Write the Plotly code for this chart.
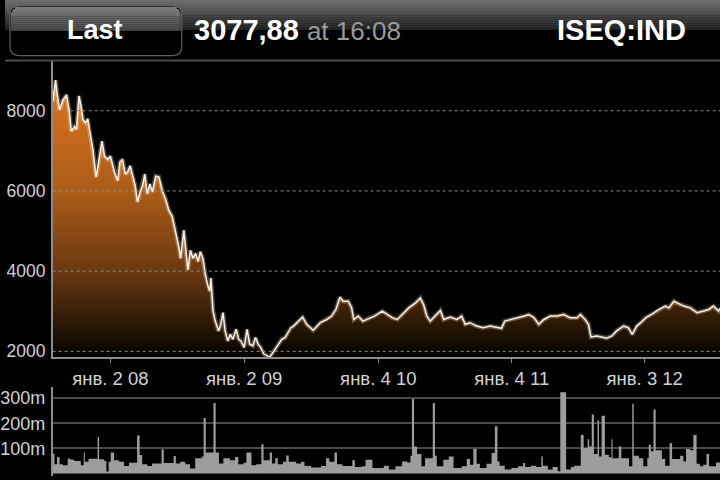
import plotly.graph_objects as go

# ---------------- data ----------------
PRICE_DATES = [
    "2007-07-28", "2007-08-05", "2007-08-09", "2007-08-16", "2007-08-25", "2007-09-04",
    "2007-09-11", "2007-09-17", "2007-09-26", "2007-10-01", "2007-10-08", "2007-10-14",
    "2007-10-19", "2007-10-26", "2007-11-01", "2007-11-08", "2007-11-15", "2007-11-24",
    "2007-12-03", "2007-12-10", "2007-12-17", "2007-12-26", "2008-01-02", "2008-01-13",
    "2008-01-22", "2008-01-28", "2008-02-04", "2008-02-12", "2008-02-18", "2008-02-25",
    "2008-03-03", "2008-03-10", "2008-03-16", "2008-03-23", "2008-03-30", "2008-04-05",
    "2008-04-12", "2008-04-19", "2008-04-26", "2008-05-05", "2008-05-14", "2008-05-23",
    "2008-06-01", "2008-06-10", "2008-06-19", "2008-06-29", "2008-07-08", "2008-07-12",
    "2008-07-21", "2008-07-26", "2008-08-01", "2008-08-08", "2008-08-15", "2008-08-22",
    "2008-08-29", "2008-09-04", "2008-09-11", "2008-09-18", "2008-09-24", "2008-09-30",
    "2008-10-03", "2008-10-09", "2008-10-15", "2008-10-24", "2008-10-30", "2008-11-05",
    "2008-11-11", "2008-11-18", "2008-11-25", "2008-12-02", "2008-12-11", "2008-12-18",
    "2008-12-24", "2009-01-02", "2009-01-10", "2009-01-17", "2009-01-26", "2009-02-02",
    "2009-02-09", "2009-02-16", "2009-02-25", "2009-03-05", "2009-03-12", "2009-03-19",
    "2009-03-28", "2009-04-06", "2009-04-15", "2009-04-24", "2009-05-03", "2009-05-10",
    "2009-05-17", "2009-05-31", "2009-06-11", "2009-06-22", "2009-07-10", "2009-07-29",
    "2009-08-16", "2009-08-29", "2009-09-10", "2009-09-21", "2009-09-30", "2009-10-14",
    "2009-10-23", "2009-10-29", "2009-11-10", "2009-11-23", "2009-12-12", "2009-12-24",
    "2010-01-15", "2010-01-28", "2010-02-11", "2010-02-25", "2010-03-10", "2010-03-28",
    "2010-04-16", "2010-04-29", "2010-05-08", "2010-05-17", "2010-05-26", "2010-06-09",
    "2010-06-23", "2010-07-02", "2010-07-20", "2010-08-07", "2010-08-20", "2010-08-30",
    "2010-09-12", "2010-09-30", "2010-10-18", "2010-11-06", "2010-11-24", "2010-12-07",
    "2010-12-16", "2011-01-03", "2011-01-19", "2011-02-07", "2011-02-20", "2011-03-06",
    "2011-03-19", "2011-04-02", "2011-04-20", "2011-05-08", "2011-05-26", "2011-06-13",
    "2011-07-02", "2011-07-11", "2011-07-24", "2011-08-02", "2011-08-09", "2011-08-25",
    "2011-09-07", "2011-09-21", "2011-10-05", "2011-10-18", "2011-11-06", "2011-11-19",
    "2011-11-30", "2011-12-12", "2011-12-23", "2012-01-06", "2012-01-24", "2012-02-11",
    "2012-02-29", "2012-03-09", "2012-03-23", "2012-04-05", "2012-04-19", "2012-05-07",
    "2012-05-25", "2012-06-12", "2012-06-26", "2012-07-09", "2012-07-23", "2012-07-27",
]
PRICE = [
    8230, 8765, 8445, 8025, 8270, 8395,
    8025, 7490, 7610, 7530, 8370, 8105,
    7780, 7700, 7800, 7365, 7035, 6345,
    6870, 7240, 6870, 6790, 6870, 6470,
    6255, 6715, 6790, 6420, 6470, 6625,
    6380, 6130, 5725, 5975, 6130, 6420,
    5925, 6175, 5975, 6370, 6345, 6005,
    5800, 5515, 5375, 4980, 4570, 4320,
    5020, 4570, 4030, 4520, 4320, 4445,
    4240, 4485, 4320, 3910, 3660, 3500,
    3830, 3005, 2755, 2510, 2675, 2965,
    2510, 2260, 2425, 2300, 2550, 2300,
    2260, 2100, 2550, 2180, 2140, 2345,
    2180, 2100, 1935, 1895, 1850, 1935,
    2055, 2180, 2300, 2345, 2470, 2590,
    2630, 2755, 2855, 2675, 2525, 2715,
    2795, 2880, 3045, 3350, 3250, 3250,
    3085, 2795, 2880, 2755, 2840, 2880,
    3005, 2920, 2840, 2795, 2920, 3085,
    3210, 3330, 3170, 2880, 2755, 2880,
    3020, 2795, 2855, 2795, 2880, 2675,
    2715, 2630, 2590, 2630, 2590, 2575,
    2755, 2795, 2820, 2880, 2920, 2840,
    2675, 2795, 2880, 2880, 2920, 2840,
    2840, 2920, 2795, 2675, 2360, 2385,
    2360, 2330, 2385, 2510, 2630, 2590,
    2425, 2630, 2715, 2840, 2935, 3045,
    3130, 3085, 3250, 3185, 3130, 3085,
    2965, 3005, 3045, 3130, 3005, 3077.88,
]

VOL_DATES = [
    "2007-07-28", "2007-08-02", "2007-08-09", "2007-08-16", "2007-08-25", "2007-09-07",
    "2007-09-16", "2007-09-25", "2007-10-13", "2007-10-21", "2007-10-24", "2007-11-03",
    "2007-11-28", "2007-12-02", "2007-12-16", "2007-12-22", "2007-12-28", "2008-01-03",
    "2008-01-12", "2008-01-26", "2008-02-08", "2008-02-22", "2008-03-15", "2008-03-22",
    "2008-03-29", "2008-04-12", "2008-04-25", "2008-05-21", "2008-05-27", "2008-06-23",
    "2008-06-29", "2008-07-11", "2008-07-25", "2008-08-07", "2008-08-21", "2008-09-08",
    "2008-09-13", "2008-09-19", "2008-10-10", "2008-10-16", "2008-10-25", "2008-11-06",
    "2008-11-24", "2008-12-08", "2008-12-17", "2008-12-31", "2009-01-08", "2009-01-22",
    "2009-02-04", "2009-02-18", "2009-02-24", "2009-03-13", "2009-03-19", "2009-03-28",
    "2009-04-04", "2009-04-18", "2009-04-27", "2009-05-04", "2009-05-24", "2009-06-07",
    "2009-06-16", "2009-07-04", "2009-07-31", "2009-08-14", "2009-08-23", "2009-09-06",
    "2009-09-13", "2009-09-28", "2009-10-25", "2009-11-01", "2009-11-21", "2009-11-30",
    "2009-12-19", "2010-01-19", "2010-02-02", "2010-02-20", "2010-03-10", "2010-03-24",
    "2010-04-02", "2010-04-06", "2010-04-12", "2010-04-20", "2010-05-02", "2010-05-12",
    "2010-06-02", "2010-06-08", "2010-06-13", "2010-07-01", "2010-07-16", "2010-07-29",
    "2010-08-20", "2010-09-03", "2010-09-12", "2010-09-21", "2010-09-30", "2010-10-09",
    "2010-10-27", "2010-11-10", "2010-11-19", "2010-11-26", "2010-12-02", "2010-12-16",
    "2011-01-03", "2011-01-21", "2011-02-04", "2011-02-10", "2011-02-26", "2011-03-12",
    "2011-03-26", "2011-03-30", "2011-04-13", "2011-04-26", "2011-05-10", "2011-05-17",
    "2011-06-02", "2011-06-15", "2011-06-24", "2011-07-12", "2011-07-20", "2011-07-31",
    "2011-08-04", "2011-08-11", "2011-08-17", "2011-08-27", "2011-08-31", "2011-09-07",
    "2011-09-16", "2011-09-27", "2011-10-04", "2011-10-07", "2011-10-24", "2011-10-31",
    "2011-11-21", "2011-11-30", "2011-12-04", "2011-12-18", "2011-12-30", "2012-01-10",
    "2012-01-14", "2012-01-20", "2012-01-27", "2012-02-02", "2012-02-19", "2012-02-28",
    "2012-03-11", "2012-03-18", "2012-04-09", "2012-04-18", "2012-04-25", "2012-05-06",
    "2012-05-15", "2012-05-24", "2012-06-02", "2012-06-11", "2012-06-20", "2012-06-27",
    "2012-07-16", "2012-07-27",
]
VOL_M = [
    79, 37, 66, 37, 33, 59,
    55, 50, 33, 83, 47, 59,
    145, 57, 50, 8, 47, 83,
    53, 47, 30, 43, 151, 74,
    37, 30, 40, 96, 42, 70,
    40, 47, 37, 20, 61, 68,
    221, 83, 280, 83, 40, 61,
    53, 66, 37, 43, 83, 33,
    37, 116, 53, 83, 40, 61,
    37, 47, 72, 47, 40, 47,
    30, 24, 30, 61, 47, 83,
    37, 30, 53, 26, 29, 55,
    22, 31, 16, 29, 48, 44,
    71, 297, 107, 78, 29, 61,
    280, 71, 29, 55, 68, 22,
    29, 58, 35, 97, 39, 22,
    39, 81, 188, 48, 31, 16,
    22, 29, 42, 26, 31, 26,
    68, 31, 16, 26, 9, 323,
    16, 26, 31, 153, 101, 136,
    107, 235, 78, 212, 68, 230,
    75, 65, 136, 61, 107, 61,
    29, 277, 71, 61, 29, 61,
    114, 88, 255, 92, 58, 31,
    120, 58, 71, 48, 97, 92,
    153, 39, 29, 35, 78, 29,
    44, 44,
]

X_RANGE = ["2007-07-28", "2012-07-27"]
X_TICKS = ["2008-01-02", "2009-01-02", "2010-01-04", "2011-01-04", "2012-01-03"]
X_TICK_TEXT = ["янв. 2 08", "янв. 2 09", "янв. 4 10", "янв. 4 11", "янв. 3 12"]
Y_RANGE = [1847, 9229]
Y_TICKS = [2000, 4000, 6000, 8000]
Y_TICK_TEXT = ["2000", "4000", "6000", "8000"]
VOL_RANGE = [-10, 345]
VOL_TICKS = [100, 200, 300]
VOL_TICK_TEXT = ["100m", "200m", "300m"]

LAST_VALUE = "3077,88"
LAST_TIME = "at 16:08"
SYMBOL = "ISEQ:IND"

# ---------------- styling helpers ----------------
W, H = 720, 480
FONT = "Liberation Sans"


def px(x):
    return x / W


def py(y):
    return 1 - y / H


def mix(c1, c2, t):
    return "rgb(%d,%d,%d)" % tuple(round(a + (b - a) * t) for a, b in zip(c1, c2))


FILL_SCALE = [
    [0.0, "#000000"],
    [0.31, "#6a3810"],
    [0.6, "#ab5c18"],
    [0.885, "#d06e1e"],
    [1.0, "#dc7c26"],
]

fig = go.Figure()

# price area + glow
fig.add_trace(go.Scatter(
    x=PRICE_DATES, y=PRICE, mode="lines",
    line=dict(color="rgba(255,225,190,0.30)", width=4.5),
    fill="tozeroy",
    fillgradient=dict(type="vertical", colorscale=FILL_SCALE, start=Y_RANGE[0], stop=8800),
    xaxis="x", yaxis="y", hoverinfo="skip",
))
fig.add_trace(go.Scatter(
    x=PRICE_DATES, y=PRICE, mode="lines",
    line=dict(color="#f7f0ea", width=1.5),
    xaxis="x", yaxis="y",
))

# volume
fig.add_trace(go.Scatter(
    x=VOL_DATES, y=VOL_M, mode="lines",
    line=dict(color="#9d9d9d", width=0, shape="hv"),
    fill="tozeroy", fillcolor="#9d9d9d",
    xaxis="x2", yaxis="y2",
))

shapes = []
# header gradient (top half)
top_c, bot_c = (108, 108, 108), (40, 40, 40)
n = 15
for i in range(n):
    y0 = 30 * i / n
    y1 = 30 * (i + 1) / n
    shapes.append(dict(type="rect", xref="paper", yref="paper", x0=0, x1=1,
                       y0=py(y1), y1=py(y0), line=dict(width=0),
                       fillcolor=mix(top_c, bot_c, i / (n - 1)), layer="below"))
# header separator
shapes.append(dict(type="line", xref="paper", yref="paper", x0=0, x1=1,
                   y0=py(61), y1=py(61), line=dict(color="#4a4a4a", width=2)))

# button
bx0, bx1, by0, by1, r = 5, 178, 6, 56, 9


def rr_path(x0, x1, y0, y1, r):
    return (f"M {px(x0 + r)} {py(y0)} L {px(x1 - r)} {py(y0)} "
            f"Q {px(x1)} {py(y0)} {px(x1)} {py(y0 + r)} L {px(x1)} {py(y1 - r)} "
            f"Q {px(x1)} {py(y1)} {px(x1 - r)} {py(y1)} L {px(x0 + r)} {py(y1)} "
            f"Q {px(x0)} {py(y1)} {px(x0)} {py(y1 - r)} L {px(x0)} {py(y0 + r)} "
            f"Q {px(x0)} {py(y0)} {px(x0 + r)} {py(y0)} Z")


shapes.append(dict(type="path", xref="paper", yref="paper", path=rr_path(bx0, bx1, by0, by1, r),
                   fillcolor="#000000", line=dict(color="#606060", width=1.2)))
nb = 12
btop, bmid = by0 + 1, 31
for i in range(nb):
    y0 = btop + (bmid - btop) * i / nb
    y1 = btop + (bmid - btop) * (i + 1) / nb
    dy = max(0.0, r - (y0 - by0 + 0.5))
    inset = r - (r * r - dy * dy) ** 0.5 if dy > 0 else 0
    shapes.append(dict(type="rect", xref="paper", yref="paper",
                       x0=px(bx0 + 1 + inset), x1=px(bx1 - 1 - inset),
                       y0=py(y1), y1=py(y0), line=dict(width=0),
                       fillcolor=mix((122, 122, 122), (78, 78, 78), i / (nb - 1))))

# dashed price grid lines (drawn above the fill, as in the reference)
for v in Y_TICKS:
    shapes.append(dict(type="line", xref="x domain", yref="y", x0=0, x1=1, y0=v, y1=v,
                       line=dict(color="#8a8a8a", width=1, dash="3px,3px"), layer="above"))

annotations = [
    dict(text="<b>Last</b>", x=px(91), y=py(30), xref="paper", yref="paper",
         xanchor="center", yanchor="middle", showarrow=False,
         font=dict(family=FONT, size=27, color="#ffffff")),
    dict(text=f"<b>{LAST_VALUE}</b> <span style='color:#9a9a9a;font-size:26px'>{LAST_TIME}</span>",
         x=px(188), y=py(30), xref="paper", yref="paper",
         xanchor="left", yanchor="middle", showarrow=False,
         font=dict(family=FONT, size=29, color="#ffffff")),
    dict(text=f"<b>{SYMBOL}</b>", x=px(688), y=py(30), xref="paper", yref="paper",
         xanchor="right", yanchor="middle", showarrow=False,
         font=dict(family=FONT, size=29, color="#ffffff")),
]

axis_col = "#8c8c8c"
tick_font = dict(family=FONT, size=17.5, color="#d2d2d2")
fig.update_layout(
    width=W, height=H, margin=dict(l=0, r=0, t=0, b=0),
    paper_bgcolor="#000000", plot_bgcolor="#000000", showlegend=False,
    hovermode=False,
    shapes=shapes, annotations=annotations,
    xaxis=dict(domain=[px(48), 1], range=X_RANGE, type="date", anchor="y",
               tickvals=X_TICKS, ticktext=X_TICK_TEXT, ticks="outside", ticklen=4,
               tickcolor=axis_col, showline=True, linecolor=axis_col, linewidth=1.5,
               showgrid=False, zeroline=False, tickfont=dict(family=FONT, size=18.5, color="#d2d2d2"),
               fixedrange=True),
    yaxis=dict(domain=[py(360.5), py(62)], range=Y_RANGE, anchor="x",
               tickvals=Y_TICKS, ticktext=Y_TICK_TEXT, ticks="", showline=True,
               linecolor=axis_col, linewidth=1.5, showgrid=False, zeroline=False,
               tickfont=tick_font, ticklabelstandoff=2),
    xaxis2=dict(domain=[px(48), 1], range=X_RANGE, type="date", anchor="y2",
                showticklabels=False, showline=False, showgrid=False, zeroline=False),
    yaxis2=dict(domain=[0, py(390)], range=VOL_RANGE, anchor="x2",
                tickvals=VOL_TICKS, ticktext=VOL_TICK_TEXT, ticks="", showline=True,
                linecolor=axis_col, linewidth=1.5, showgrid=True, gridcolor="#4a4a4a",
                gridwidth=1.5, zeroline=False, tickfont=dict(family=FONT, size=18, color="#d2d2d2"),
                ticklabelstandoff=2),
)

fig.write_html("out.html", config={"displayModeBar": False},
               post_script="document.body.style.margin='0';document.body.style.overflow='hidden';")
